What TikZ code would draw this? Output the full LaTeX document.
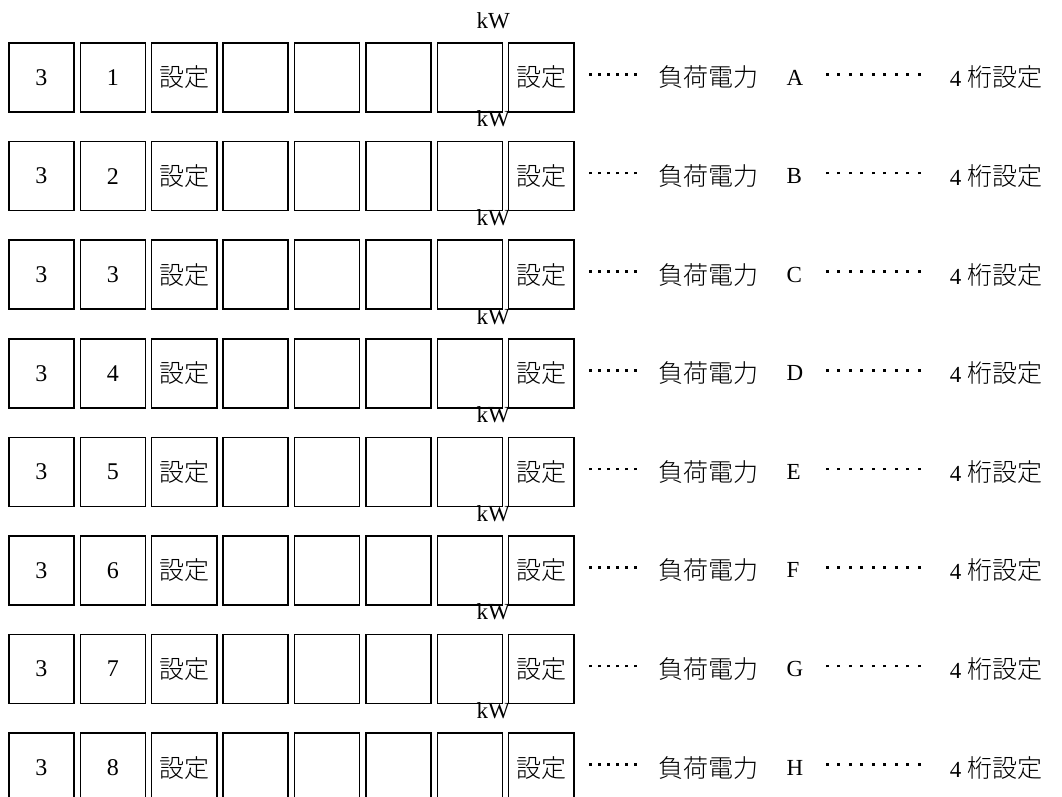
\documentclass[tikz,border=0pt]{standalone}
\usepackage{fontspec}
\setmainfont{Liberation Serif}
\usetikzlibrary{matrix,positioning}
\IfFontExistsTF{Noto Sans CJK JP Light}
  {\newfontfamily\jp{Noto Sans CJK JP Light}}
  {\newfontfamily\jp{Noto Sans CJK JP}}
% puntini di guida: larghezza totale, passo
\newcommand{\puntini}[2]{\hbox to #1{\leaders\hbox to #2{\hss\raisebox{6pt}{\rule{2.6pt}{2.6pt}}\hss}\hfill}}

\begin{document}
\begin{tikzpicture}[x=1pt, y=1pt,
                    testo/.style={inner sep=0pt, font=\fontsize{23}{28}\selectfont},
                    kanji/.style={inner sep=0pt, font=\fontsize{25}{30}\jp}]
    % Cornice della figura
    \clip (0,0) rectangle (1062,-796);

    % Creazione della matrice dei tasti
    \matrix (m) [matrix of nodes, nodes in empty cells,
                 anchor=north west, inner sep=0pt,
                 nodes={draw, line width=1.5pt, anchor=center, inner sep=0pt,
                        font=\fontsize{24}{29}\selectfont,
                        minimum width=65pt, minimum height=69pt},
                 column sep=4.9pt, row sep=28.1pt] at (8,-42)
    {
        3 & 1 & |[kanji]| 設定 & & & & & |[kanji]| 設定 \\
        3 & 2 & |[kanji]| 設定 & & & & & |[kanji]| 設定 \\
        3 & 3 & |[kanji]| 設定 & & & & & |[kanji]| 設定 \\
        3 & 4 & |[kanji]| 設定 & & & & & |[kanji]| 設定 \\
        3 & 5 & |[kanji]| 設定 & & & & & |[kanji]| 設定 \\
        3 & 6 & |[kanji]| 設定 & & & & & |[kanji]| 設定 \\
        3 & 7 & |[kanji]| 設定 & & & & & |[kanji]| 設定 \\
        3 & 8 & |[kanji]| 設定 & & & & & |[kanji]| 設定 \\
    };

    % Unita' sopra la quarta cifra
    \node[testo, anchor=base east] (kw1) at ([shift={(7,14)}]m-1-7.north east) {kW};
    \node[testo, anchor=base east] (kw2) at ([shift={(7,14)}]m-2-7.north east) {kW};
    \node[testo, anchor=base east] (kw3) at ([shift={(7,14)}]m-3-7.north east) {kW};
    \node[testo, anchor=base east] (kw4) at ([shift={(7,14)}]m-4-7.north east) {kW};
    \node[testo, anchor=base east] (kw5) at ([shift={(7,14)}]m-5-7.north east) {kW};
    \node[testo, anchor=base east] (kw6) at ([shift={(7,14)}]m-6-7.north east) {kW};
    \node[testo, anchor=base east] (kw7) at ([shift={(7,14)}]m-7-7.north east) {kW};
    \node[testo, anchor=base east] (kw8) at ([shift={(7,14)}]m-8-7.north east) {kW};

    % Riga 1: carico A
    \node[testo, right=11pt of m-1-8] (pa1) {\puntini{54pt}{9pt}};
    \node[kanji, right=18pt of pa1] (car1) {負荷電力};
    \node[testo, right=28pt of car1] (let1) {A};
    \node[testo, right=63pt of car1] (pb1) {\puntini{105pt}{11.5pt}};
    \node[testo, right=23pt of pb1] (cif1) {4 {\fontsize{25}{30}\jp 桁設定}};

    % Riga 2: carico B
    \node[testo, right=11pt of m-2-8] (pa2) {\puntini{54pt}{9pt}};
    \node[kanji, right=18pt of pa2] (car2) {負荷電力};
    \node[testo, right=28pt of car2] (let2) {B};
    \node[testo, right=63pt of car2] (pb2) {\puntini{105pt}{11.5pt}};
    \node[testo, right=23pt of pb2] (cif2) {4 {\fontsize{25}{30}\jp 桁設定}};

    % Riga 3: carico C
    \node[testo, right=11pt of m-3-8] (pa3) {\puntini{54pt}{9pt}};
    \node[kanji, right=18pt of pa3] (car3) {負荷電力};
    \node[testo, right=28pt of car3] (let3) {C};
    \node[testo, right=63pt of car3] (pb3) {\puntini{105pt}{11.5pt}};
    \node[testo, right=23pt of pb3] (cif3) {4 {\fontsize{25}{30}\jp 桁設定}};

    % Riga 4: carico D
    \node[testo, right=11pt of m-4-8] (pa4) {\puntini{54pt}{9pt}};
    \node[kanji, right=18pt of pa4] (car4) {負荷電力};
    \node[testo, right=28pt of car4] (let4) {D};
    \node[testo, right=63pt of car4] (pb4) {\puntini{105pt}{11.5pt}};
    \node[testo, right=23pt of pb4] (cif4) {4 {\fontsize{25}{30}\jp 桁設定}};

    % Riga 5: carico E
    \node[testo, right=11pt of m-5-8] (pa5) {\puntini{54pt}{9pt}};
    \node[kanji, right=18pt of pa5] (car5) {負荷電力};
    \node[testo, right=28pt of car5] (let5) {E};
    \node[testo, right=63pt of car5] (pb5) {\puntini{105pt}{11.5pt}};
    \node[testo, right=23pt of pb5] (cif5) {4 {\fontsize{25}{30}\jp 桁設定}};

    % Riga 6: carico F
    \node[testo, right=11pt of m-6-8] (pa6) {\puntini{54pt}{9pt}};
    \node[kanji, right=18pt of pa6] (car6) {負荷電力};
    \node[testo, right=28pt of car6] (let6) {F};
    \node[testo, right=63pt of car6] (pb6) {\puntini{105pt}{11.5pt}};
    \node[testo, right=23pt of pb6] (cif6) {4 {\fontsize{25}{30}\jp 桁設定}};

    % Riga 7: carico G
    \node[testo, right=11pt of m-7-8] (pa7) {\puntini{54pt}{9pt}};
    \node[kanji, right=18pt of pa7] (car7) {負荷電力};
    \node[testo, right=28pt of car7] (let7) {G};
    \node[testo, right=63pt of car7] (pb7) {\puntini{105pt}{11.5pt}};
    \node[testo, right=23pt of pb7] (cif7) {4 {\fontsize{25}{30}\jp 桁設定}};

    % Riga 8: carico H
    \node[testo, right=11pt of m-8-8] (pa8) {\puntini{54pt}{9pt}};
    \node[kanji, right=18pt of pa8] (car8) {負荷電力};
    \node[testo, right=28pt of car8] (let8) {H};
    \node[testo, right=63pt of car8] (pb8) {\puntini{105pt}{11.5pt}};
    \node[testo, right=23pt of pb8] (cif8) {4 {\fontsize{25}{30}\jp 桁設定}};

\end{tikzpicture}
\end{document}
